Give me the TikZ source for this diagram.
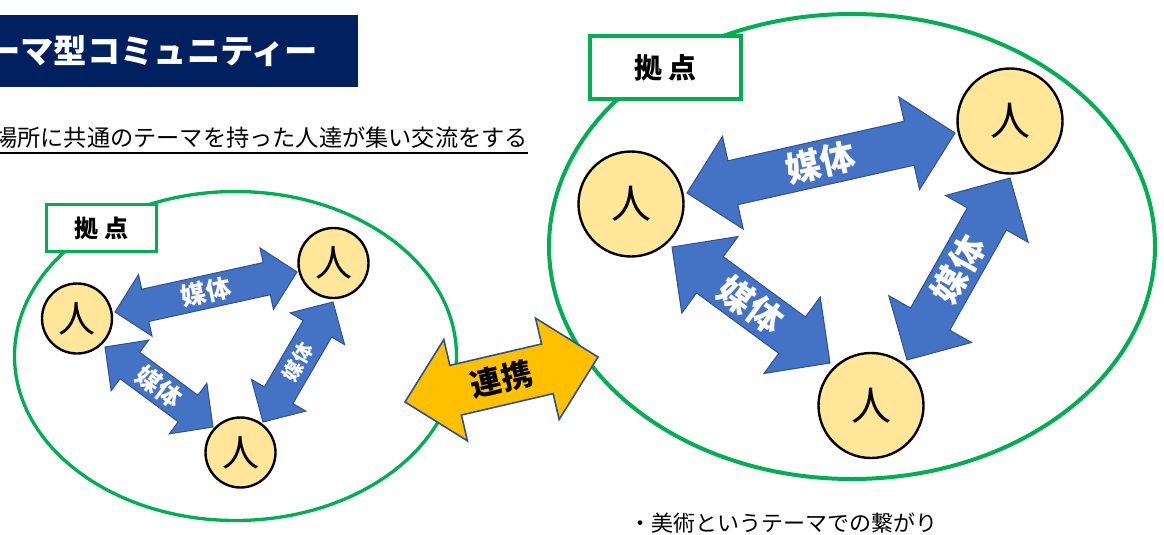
\documentclass[tikz,border=0pt]{standalone}
\usepackage{fontspec}
\setmainfont{Noto Sans CJK JP}
\usetikzlibrary{calc}
\definecolor{navy}{HTML}{002060}
\definecolor{grn}{HTML}{00B050}
\definecolor{ppl}{HTML}{FFE699}
\definecolor{blu}{HTML}{4472C4}
\definecolor{bdr}{HTML}{2F528F}
\definecolor{org}{HTML}{FFC000}

% double arrow between two named points: #1 from, #2 to, #3 head length, #4 half head width, #5 half shaft width, #6 style
\newcommand\dblarr[6]{%
  \coordinate (da1) at ($(#1)!#3!(#2)$);
  \coordinate (da2) at ($(#2)!#3!(#1)$);
  \draw[#6] (#1) -- ($(da1)!#4!90:(#2)$) -- ($(da1)!#5!90:(#2)$) -- ($(da2)!#5!-90:(#1)$) -- ($(da2)!#4!-90:(#1)$) -- (#2)
    -- ($(da2)!#4!90:(#1)$) -- ($(da2)!#5!90:(#1)$) -- ($(da1)!#5!-90:(#2)$) -- ($(da1)!#4!-90:(#2)$) -- cycle;
}

\tikzset{
  person/.style={circle, draw=black, line width=2.4pt, fill=ppl, inner sep=0pt, font=\fontsize{40}{40}\selectfont},
  bigp/.style={person, minimum size=105pt},
  smallp/.style={person, minimum size=70pt, font=\fontsize{37}{37}\selectfont},
  bluearr/.style={fill=blu, draw=bdr, line width=1pt, line join=miter},
  orgarr/.style={fill=org, draw=bdr, line width=1.6pt, line join=miter},
  hubbox/.style={draw=grn, fill=white, inner sep=0pt},
  biglabel/.style={midway, sloped, text=white, inner sep=0pt, font=\bfseries\fontsize{35}{35}\selectfont},
  smalllabel/.style={midway, sloped, text=white, inner sep=0pt, font=\bfseries\fontsize{25}{25}\selectfont},
  ring/.style={draw=grn},
}

\begin{document}
\begin{tikzpicture}[x=1pt,y=-1pt]
\useasboundingbox (0,0) rectangle (1164,535);
\clip (0,0) rectangle (1164,535);
\fill[white] (0,0) rectangle (1164,535);

% title
\node[fill=navy, minimum width=358pt, minimum height=72pt, anchor=north west, inner sep=0pt] (titlebox) at (0,15) {};
\node[anchor=west, inner sep=0pt, text=white, font=\bfseries\fontsize{33.3}{33.3}\selectfont] (title) at (-13,51.5) {ーマ型コミュニティー};

% subtitle
\node[anchor=west, inner sep=0pt, font=\fontsize{23.2}{23.2}\selectfont] (sub) at (-6,138) {場所に共通のテーマを持った人達が集い交流をする};
\draw[line width=1.8pt] ($(sub.south west)+(0,4)$) -- ($(sub.south east)+(0,4)$);

% ===== left community =====
\draw[ring, line width=3.3pt] (235.5,356) ellipse [x radius=221pt, y radius=164.5pt];
\node[hubbox, line width=3pt, minimum width=110pt, minimum height=47pt, font=\bfseries\fontsize{24}{24}\selectfont] (hubL) at (101.5,228) {拠 点};

\node[smallp] (sp1) at (77,318.5) {人};
\node[smallp] (sp2) at (333.5,263) {人};
\node[smallp] (sp3) at (240.5,452.5) {人};

\coordinate (s1a) at (115,312);
\coordinate (s1b) at (297,272);
\coordinate (s2a) at (105,347);
\coordinate (s2b) at (213,427);
\coordinate (s3a) at (263,422);
\coordinate (s3b) at (333,302);

\dblarr{s1a}{s1b}{31pt}{31.5pt}{16.5pt}{bluearr}
\path (s1a) -- (s1b) node[smalllabel] {媒体};
\dblarr{s2a}{s2b}{31pt}{31.5pt}{16.5pt}{bluearr}
\path (s2a) -- (s2b) node[smalllabel] {媒体};
\dblarr{s3a}{s3b}{31pt}{31.5pt}{16.5pt}{bluearr}
\path (s3a) -- (s3b) node[smalllabel, font=\bfseries\fontsize{20}{20}\selectfont] {媒体};

% ===== right community =====
\draw[ring, line width=4pt] (852,246.5) ellipse [x radius=303pt, y radius=232.5pt];
\node[hubbox, line width=4pt, minimum width=151pt, minimum height=63pt, font=\bfseries\fontsize{28}{28}\selectfont] (hubR) at (665.5,67.5) {拠 点};

\node[bigp] (bp1) at (631,204) {人};
\node[bigp] (bp2) at (1010,121) {人};
\node[bigp] (bp3) at (871,405.5) {人};

\coordinate (b1a) at (687,193);
\coordinate (b1b) at (955,133);
\coordinate (b2a) at (672,247);
\coordinate (b2b) at (830,363);
\coordinate (b3a) at (907,360);
\coordinate (b3b) at (1010,178);

\dblarr{b1a}{b1b}{47pt}{47.5pt}{22.5pt}{bluearr}
\path (b1a) -- (b1b) node[biglabel] {媒体};
\dblarr{b2a}{b2b}{47pt}{47.5pt}{22.5pt}{bluearr}
\path (b2a) -- (b2b) node[biglabel] {媒体};
\dblarr{b3a}{b3b}{47pt}{47.5pt}{22.5pt}{bluearr}
\path (b3a) -- (b3b) node[biglabel] {媒体};

% ===== link between communities =====
\coordinate (oa) at (405,402);
\coordinate (ob) at (598,357);
\dblarr{oa}{ob}{52pt}{52pt}{25.5pt}{orgarr}
\path (oa) -- (ob) node[midway, sloped, inner sep=0pt, font=\bfseries\fontsize{31}{31}\selectfont] (link) {連携};

% caption
\node[anchor=base west, inner sep=0pt, font=\fontsize{22}{22}\selectfont] (cap) at (629,531) {・美術というテーマでの繋がり};
\end{tikzpicture}
\end{document}
